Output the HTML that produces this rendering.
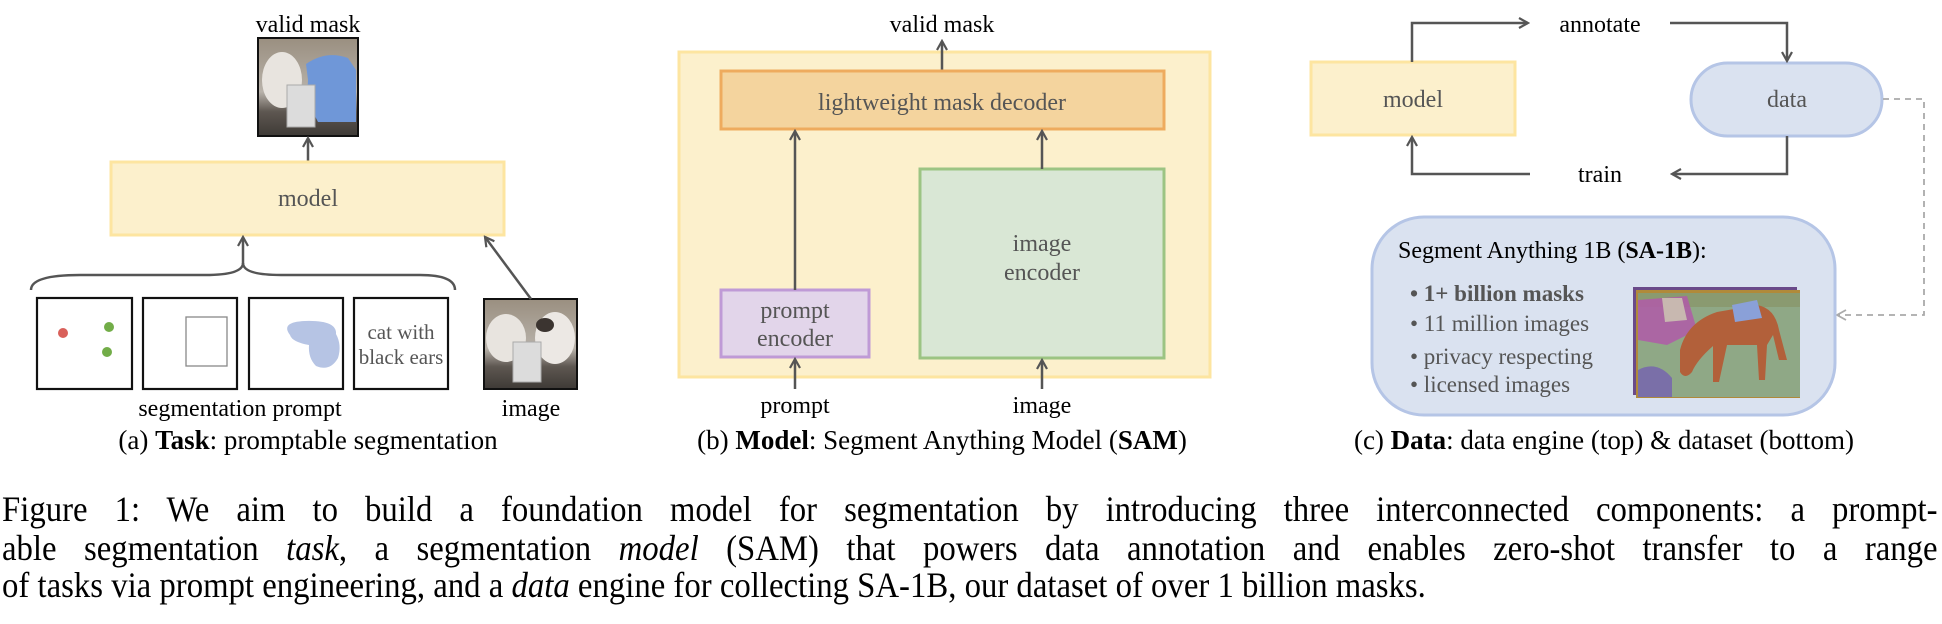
<!DOCTYPE html>
<html><head><meta charset="utf-8"><style>
html,body{margin:0;padding:0;background:#fff;}
body{position:relative;width:1942px;height:624px;overflow:hidden;}
svg{display:block;position:absolute;left:0;top:0;}
svg text{font-family:"Liberation Serif","Times New Roman",serif;}
.cap{position:absolute;left:2px;width:2127px;font-family:"Liberation Serif","Times New Roman",serif;font-size:36px;line-height:36px;white-space:nowrap;color:#000;transform:scaleX(0.91);transform-origin:0 0;}
.j{text-align:justify;text-align-last:justify;white-space:normal;}
</style></head><body>
<svg width="1942" height="624" viewBox="0 0 1942 624" xmlns="http://www.w3.org/2000/svg" font-family="Liberation Serif, serif">
<defs>
<marker id="ah" viewBox="0 0 12 12" refX="10" refY="6" markerWidth="12" markerHeight="12" markerUnits="userSpaceOnUse" orient="auto">
<path d="M1,1 L10,6 L1,11" fill="none" stroke="#555" stroke-width="2.2"/>
</marker>
<marker id="ahg" viewBox="0 0 12 12" refX="10" refY="6" markerWidth="12" markerHeight="12" markerUnits="userSpaceOnUse" orient="auto">
<path d="M1,1 L10,6 L1,11" fill="none" stroke="#aaa" stroke-width="1.8"/>
</marker>
<linearGradient id="photo" x1="0" y1="0" x2="0" y2="1">
<stop offset="0" stop-color="#9a8f80"/><stop offset="0.55" stop-color="#b8b2aa"/><stop offset="0.75" stop-color="#5e5751"/><stop offset="1" stop-color="#3e3a36"/>
</linearGradient>
</defs>
<g font-size="24" text-anchor="middle" fill="#000">
<!-- Panel A -->
<text x="308" y="32">valid mask</text>
<rect x="258" y="38" width="100" height="98" fill="url(#photo)" stroke="#111" stroke-width="2"/>
<ellipse cx="282" cy="80" rx="20" ry="28" fill="#e8e4df"/>
<path d="M306,64 Q326,50 348,58 L356,70 L356,122 L318,122 Q306,100 308,80 Z" fill="#6f97d8"/>
<rect x="287" y="85" width="28" height="42" fill="#dcdcdc" stroke="#aaa" stroke-width="1"/>
<line x1="308" y1="162" x2="308" y2="138" stroke="#555" stroke-width="2.5" marker-end="url(#ah)"/>
<rect x="111" y="162" width="393" height="73" fill="#fcf0cc" stroke="#fde5a0" stroke-width="3"/>
<text x="308" y="206" fill="#555">model</text>
<path d="M31,290 Q31,275 80,275 L205,275 Q243,275 243,263 Q243,275 281,275 L420,275 Q455,275 455,290" fill="none" stroke="#555" stroke-width="2.5"/>
<line x1="243" y1="264" x2="243" y2="237" stroke="#555" stroke-width="2.5" marker-end="url(#ah)"/>
<rect x="37" y="298" width="95" height="91" fill="#fff" stroke="#111" stroke-width="2.2"/>
<rect x="143" y="298" width="94" height="91" fill="#fff" stroke="#111" stroke-width="2.2"/>
<rect x="249" y="298" width="94" height="91" fill="#fff" stroke="#111" stroke-width="2.2"/>
<rect x="354" y="298" width="94" height="91" fill="#fff" stroke="#111" stroke-width="2.2"/>
<circle cx="63" cy="333" r="5" fill="#d9605a"/>
<circle cx="109" cy="327" r="5" fill="#72ad48"/>
<circle cx="107" cy="352" r="5" fill="#72ad48"/>
<rect x="186" y="317" width="41" height="49" fill="none" stroke="#888" stroke-width="1.3"/>
<path d="M290,335 Q280,322 305,321 Q337,320 336,334 Q342,345 338,358 Q330,372 316,366 Q308,358 309,345 Q292,342 290,335 Z" fill="#b6c4e4"/>
<text x="401" y="339" font-size="21" fill="#555">cat with</text>
<text x="401" y="364" font-size="21" fill="#555">black ears</text>
<rect x="484" y="299" width="93" height="90" fill="url(#photo)" stroke="#111" stroke-width="2"/>
<ellipse cx="506" cy="338" rx="20" ry="24" fill="#e8e4df"/>
<ellipse cx="555" cy="338" rx="20" ry="26" fill="#ece8e4"/>
<ellipse cx="545" cy="325" rx="9" ry="7" fill="#3b3430"/>
<rect x="513" y="342" width="28" height="40" fill="#dcdcdc" stroke="#aaa" stroke-width="1"/>
<line x1="531" y1="299" x2="485" y2="237" stroke="#555" stroke-width="2.5" marker-end="url(#ah)"/>
<text x="240" y="416">segmentation prompt</text>
<text x="531" y="416">image</text>
<text x="308" y="449" font-size="27">(a) <tspan font-weight="bold">Task</tspan>: promptable segmentation</text>

<!-- Panel B -->
<text x="942" y="32">valid mask</text>
<rect x="679" y="52" width="531" height="325" fill="#fcf0cc" stroke="#fde5a0" stroke-width="3"/>
<line x1="942" y1="71" x2="942" y2="41" stroke="#555" stroke-width="2.5" marker-end="url(#ah)"/>
<rect x="721" y="71" width="443" height="58" fill="#f4d49e" stroke="#eeab5e" stroke-width="3"/>
<text x="942" y="110" fill="#555">lightweight mask decoder</text>
<rect x="721" y="290" width="148" height="67" fill="#e2d5ea" stroke="#bf9ad6" stroke-width="3"/>
<text x="795" y="318" fill="#555">prompt</text>
<text x="795" y="346" fill="#555">encoder</text>
<rect x="920" y="169" width="244" height="189" fill="#d9e7d5" stroke="#9cc483" stroke-width="3"/>
<text x="1042" y="251" fill="#555">image</text>
<text x="1042" y="280" fill="#555">encoder</text>
<line x1="795" y1="290" x2="795" y2="131" stroke="#555" stroke-width="2.5" marker-end="url(#ah)"/>
<line x1="1042" y1="169" x2="1042" y2="131" stroke="#555" stroke-width="2.5" marker-end="url(#ah)"/>
<line x1="795" y1="389" x2="795" y2="359" stroke="#555" stroke-width="2.5" marker-end="url(#ah)"/>
<line x1="1042" y1="389" x2="1042" y2="360" stroke="#555" stroke-width="2.5" marker-end="url(#ah)"/>
<text x="795" y="413">prompt</text>
<text x="1042" y="413">image</text>
<text x="942" y="449" font-size="27">(b) <tspan font-weight="bold">Model</tspan>: Segment Anything Model (<tspan font-weight="bold">SAM</tspan>)</text>

<!-- Panel C -->
<rect x="1311" y="62" width="204" height="73" fill="#fcf0cc" stroke="#fde5a0" stroke-width="3"/>
<text x="1413" y="107" fill="#555">model</text>
<rect x="1691" y="63" width="191" height="73" rx="36.5" fill="#dae2f0" stroke="#b5c5e6" stroke-width="3"/>
<text x="1787" y="107" fill="#555">data</text>
<polyline points="1412,62 1412,23 1528,23" fill="none" stroke="#555" stroke-width="2.5" marker-end="url(#ah)"/>
<text x="1600" y="32">annotate</text>
<polyline points="1670,23 1787,23 1787,61" fill="none" stroke="#555" stroke-width="2.5" marker-end="url(#ah)"/>
<polyline points="1787,136 1787,174 1672,174" fill="none" stroke="#555" stroke-width="2.5" marker-end="url(#ah)"/>
<text x="1600" y="182">train</text>
<polyline points="1530,174 1412,174 1412,137" fill="none" stroke="#555" stroke-width="2.5" marker-end="url(#ah)"/>
<polyline points="1883,99 1924,99 1924,315 1837,315" fill="none" stroke="#aaa" stroke-width="1.8" stroke-dasharray="6,5" marker-end="url(#ahg)"/>
<rect x="1372" y="217" width="463" height="198" rx="52" fill="#dae2f0" stroke="#b5c5e6" stroke-width="3"/>
<text x="1398" y="258" text-anchor="start">Segment Anything 1B (<tspan font-weight="bold">SA-1B</tspan>):</text>
<g text-anchor="start" fill="#555" font-size="23">
<text x="1410" y="301" font-weight="bold">• 1+ billion masks</text>
<text x="1410" y="331">• 11 million images</text>
<text x="1410" y="364">• privacy respecting</text>
<text x="1410" y="392">• licensed images</text>
</g>
<rect x="1633" y="287" width="164" height="108" fill="#6a4a8a"/>
<rect x="1636" y="290" width="164" height="108" fill="#b08a3a"/>
<rect x="1638" y="293" width="162" height="104" fill="#8fa886"/>
<rect x="1638" y="293" width="162" height="14" fill="#8a9a70"/>
<path d="M1638,300 L1687,296 L1697,330 L1667,345 L1638,340 Z" fill="#b05aa8" opacity="0.85"/>
<path d="M1662,298 L1682,298 L1687,320 L1665,322 Z" fill="#c8b8b0"/>
<path d="M1638,370 Q1657,360 1672,378 L1672,397 L1638,397 Z" fill="#7a6fa8"/>
<path d="M1680,350 Q1687,322 1717,312 L1757,305 Q1775,308 1779,330 L1787,360 L1779,360 L1773,335 L1767,345 L1765,380 L1759,380 L1757,345 L1727,345 L1719,382 L1713,382 L1713,346 Q1697,360 1692,372 Q1685,380 1680,372 Z" fill="#b2603a"/>
<path d="M1732,305 L1757,300 L1762,318 L1735,322 Z" fill="#8aa0d8"/>
<text x="1604" y="449" font-size="27">(c) <tspan font-weight="bold">Data</tspan>: data engine (top) &amp; dataset (bottom)</text>
</g>
</svg>
<div class="cap j" style="top:491px;">Figure 1: We aim to build a foundation model for segmentation by introducing three interconnected components: a prompt-</div>
<div class="cap j" style="top:530px;">able segmentation <i>task</i>, a segmentation <i>model</i> (SAM) that powers data annotation and enables zero-shot transfer to a range</div>
<div class="cap" style="top:567px;">of tasks via prompt engineering, and a <i>data</i> engine for collecting SA-1B, our dataset of over 1 billion masks.</div>
</body></html>
